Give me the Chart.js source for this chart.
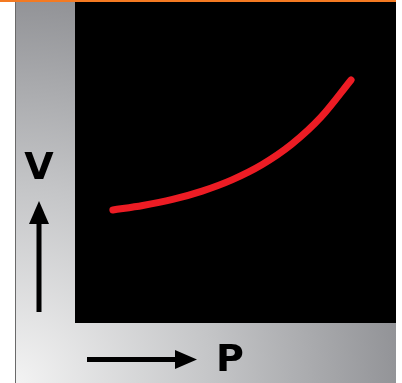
<!DOCTYPE html>
<html>
<head>
<meta charset="utf-8">
<script src="https://cdn.jsdelivr.net/npm/chart.js@4"></script>
<style>
  html, body { margin: 0; padding: 0; background: #fff; }
  #wrap { width: 402px; height: 383px; }
</style>
</head>
<body>
<div id="wrap"><canvas id="pvChart" width="402" height="383"></canvas></div>
<script>
// P / V readings along the red curve (arbitrary units, 0..10)
const pressure = [1.18, 2.11, 3.04, 3.96, 4.89, 5.82, 6.74, 7.67, 8.6]
const volume = [3.52, 3.66, 3.85, 4.11, 4.46, 4.93, 5.56, 6.42, 7.57]
const axisLabels = ['P', 'V']

// background frame: orange strip, grey gradient border, black plot area
const framePlugin = {
    id: 'frame',
    beforeDraw: chart => {
        const { ctx, chartArea: a, width, height } = chart
        ctx.save()
        ctx.fillStyle = '#fff'
        ctx.fillRect(0, 0, width, height)

        const g = ctx.createRadialGradient(16, height, 0, 16, height, 395)
        g.addColorStop(0, '#f3f3f3')
        g.addColorStop(0.5, '#c4c5c7')
        g.addColorStop(1, '#8f9094')
        ctx.fillStyle = g
        ctx.fillRect(16, 2, a.right - 16, height - 2)

        ctx.fillStyle = '#6a6a6a'
        ctx.fillRect(15, 2, 1, height - 2)

        ctx.fillStyle = '#f47a22'
        ctx.fillRect(0, 0, a.right, 2)

        ctx.fillStyle = '#000'
        ctx.fillRect(a.left, a.top, a.right - a.left, a.bottom - a.top)
        ctx.restore()
    },
    afterDraw: chart => {
        const { ctx } = chart
        ctx.save()
        ctx.fillStyle = '#000'

        // up arrow (V)
        ctx.fillRect(36.5, 220, 5, 92)
        ctx.beginPath()
        ctx.moveTo(39, 201)
        ctx.lineTo(49, 224)
        ctx.lineTo(29, 224)
        ctx.closePath()
        ctx.fill()

        // right arrow (P)
        ctx.fillRect(87, 357, 92, 5)
        ctx.beginPath()
        ctx.moveTo(197, 359.5)
        ctx.lineTo(175, 350)
        ctx.lineTo(175, 369)
        ctx.closePath()
        ctx.fill()

        ctx.font = 'bold 38px "DejaVu Sans"'
        ctx.textAlign = 'center'
        ctx.textBaseline = 'alphabetic'
        ctx.fillText(axisLabels[1], 39, 179)
        ctx.fillText(axisLabels[0], 230, 371)
        ctx.restore()
    }
}

const data = {
    datasets: [{
        data: pressure.map((p, i) => ({ x: p, y: volume[i] })),
        borderColor: '#ed1c24',
        borderWidth: 7,
        borderCapStyle: 'round',
        pointRadius: 0,
        cubicInterpolationMode: 'monotone',
        clip: false
    }]
}

const options = {
    responsive: false,
    animation: false,
    layout: { padding: { left: 75, top: 2, right: 6, bottom: 60 } },
    plugins: {
        legend: { display: false },
        tooltip: { enabled: false }
    },
    scales: {
        x: { type: 'linear', min: 0, max: 10, display: false },
        y: { min: 0, max: 10, display: false }
    }
}

new Chart('pvChart', { type: 'line', data, options, plugins: [framePlugin] })
</script>
</body>
</html>
